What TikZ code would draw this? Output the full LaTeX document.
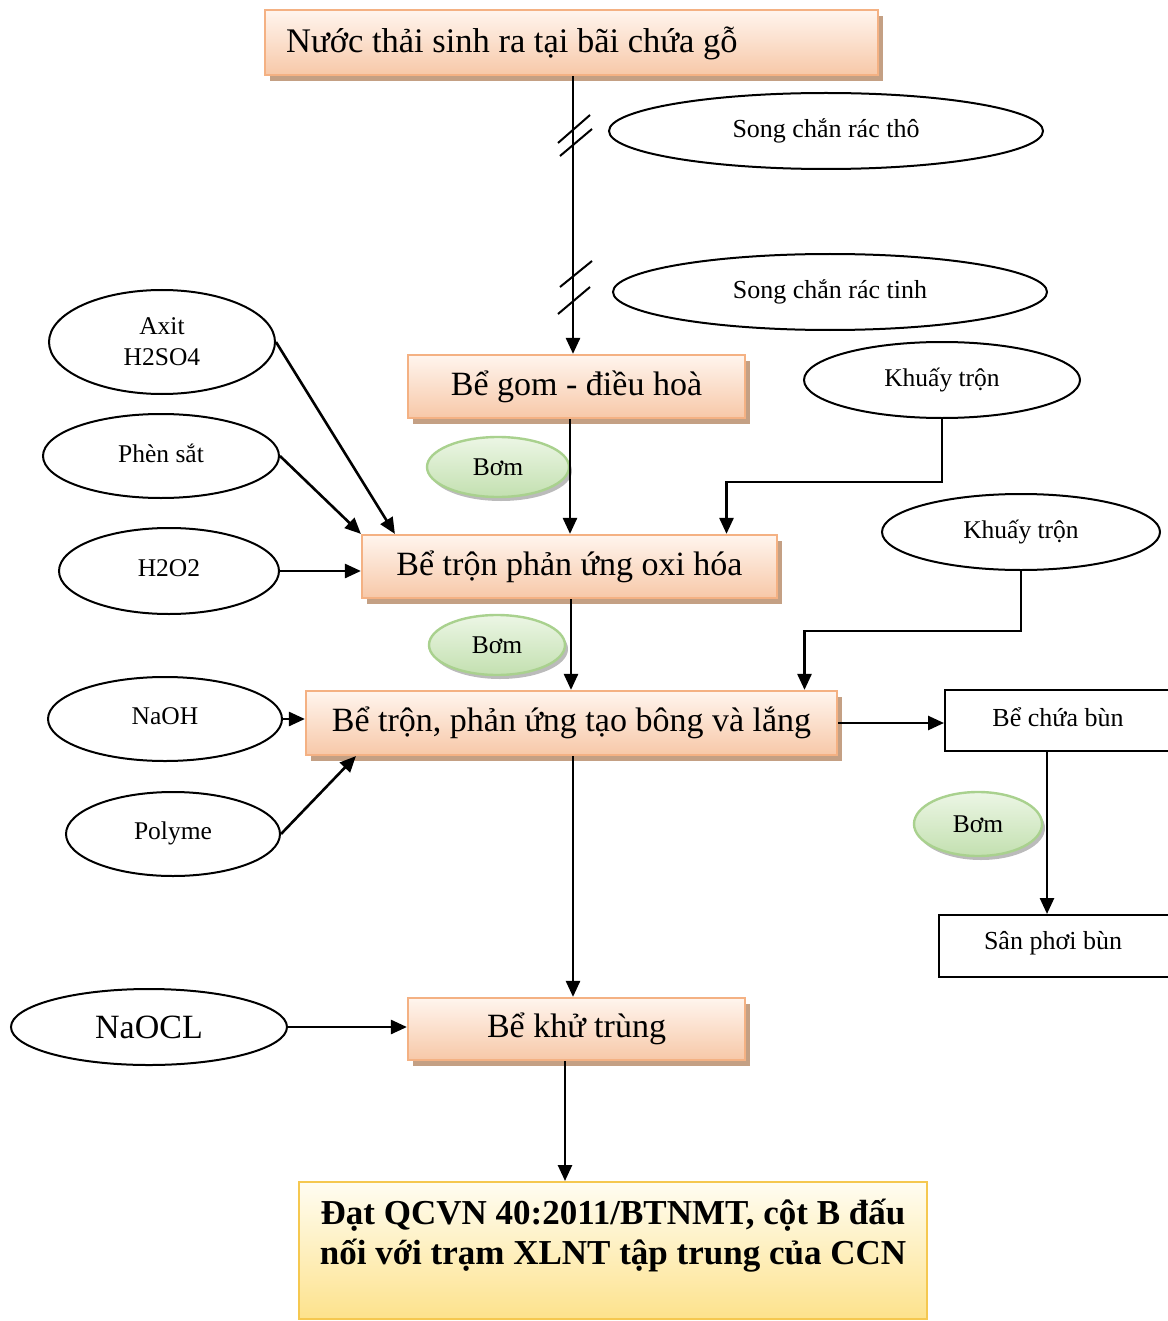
\documentclass[tikz,border=0pt]{standalone}
\usepackage{fontspec}
\setmainfont{Liberation Serif}
\usetikzlibrary{arrows.meta,shadows,shapes.geometric}
\definecolor{orb}{RGB}{244,177,131}
\definecolor{ortop}{RGB}{255,245,238}
\definecolor{orbot}{RGB}{247,200,168}
\definecolor{shad}{RGB}{196,160,132}
\definecolor{yeb}{RGB}{245,200,80}
\definecolor{yetop}{RGB}{255,253,242}
\definecolor{yebot}{RGB}{253,226,140}
\definecolor{grb}{RGB}{169,209,142}
\definecolor{grtop}{RGB}{236,246,229}
\definecolor{grbot}{RGB}{195,224,176}
\definecolor{gshad}{RGB}{170,170,170}
\tikzset{
  procbox/.style={draw=orb, line width=2.2pt, top color=ortop, bottom color=orbot,
    font=\fontsize{34}{38}\selectfont, inner sep=0pt,
    drop shadow={shadow xshift=5pt, shadow yshift=-6pt, fill=shad, opacity=1}},
  endbox/.style={draw=yeb, line width=2pt, top color=yetop, bottom color=yebot,
    font=\fontsize{34}{40}\selectfont\bfseries, inner sep=0pt, align=center},
  chem/.style={draw=black, line width=2pt, ellipse, fill=white, inner sep=0pt,
    font=\fontsize{25.5}{31}\selectfont, align=center},
  pump/.style={draw=grb, line width=2.4pt, ellipse, top color=grtop, bottom color=grbot,
    inner sep=0pt, font=\fontsize{25.5}{30}\selectfont,
    drop shadow={shadow xshift=3pt, shadow yshift=-4pt, fill=gshad, opacity=0.8}},
  plainbox/.style={draw=black, line width=2pt, fill=white, inner sep=0pt,
    font=\fontsize{26}{30}\selectfont},
  conn/.style={line width=2.6pt, draw=black},
  arr/.style={conn, -{Triangle[length=16pt,width=14pt]}},
}
\begin{document}
\begin{tikzpicture}[x=1pt,y=-1pt]
\useasboundingbox (0,0) rectangle (1167,1321);
% process boxes
\node[procbox, minimum width=613pt, minimum height=65pt] (top) at (571.5,42.5) {};
\node[font=\fontsize{34.5}{38}\selectfont, inner sep=0pt, anchor=west] (topt) at (286,43) {Nước thải sinh ra tại bãi chứa gỗ};
\node[procbox, minimum width=337pt, minimum height=63pt] (gom) at (576.5,386.5) {Bể gom - điều hoà};
\node[procbox, minimum width=415pt, minimum height=63pt] (ox) at (569.5,566.5) {Bể trộn phản ứng oxi hóa};
\node[procbox, minimum width=531pt, minimum height=64pt] (bl) at (571.5,723) {Bể trộn, phản ứng tạo bông và lắng};
\node[procbox, minimum width=337pt, minimum height=62pt] (kt) at (576.5,1029) {Bể khử trùng};
\node[endbox, minimum width=628pt, minimum height=137pt] (end) at (613,1250.5) {};
\node[font=\fontsize{35}{40}\selectfont\bfseries, align=center, inner sep=0pt] (endt) at (613,1236) {Đạt QCVN 40:2011/BTNMT, cột B đấu\\nối với trạm XLNT tập trung của CCN};
% ellipses
\node[chem, minimum width=434pt, minimum height=76pt, font=\fontsize{26}{31}\selectfont] (sct) at (826,131) {\raisebox{1pt}{Song chắn rác thô}};
\node[chem, minimum width=434pt, minimum height=76pt, font=\fontsize{26}{31}\selectfont] (sctinh) at (830,292) {\raisebox{1pt}{Song chắn rác tinh}};
\node[chem, minimum width=226pt, minimum height=104pt] (ax) at (162,342) {Axit\\H2SO4};
\node[chem, minimum width=236pt, minimum height=84pt] (ps) at (161,456) {\raisebox{6pt}{Phèn sắt}};
\node[chem, minimum width=220pt, minimum height=86pt] (h2) at (169,571) {\raisebox{6pt}{H2O2}};
\node[chem, minimum width=276pt, minimum height=76pt] (k1) at (942,380) {\raisebox{3pt}{Khuấy trộn}};
\node[chem, minimum width=278pt, minimum height=76pt] (k2) at (1021,532) {\raisebox{2pt}{Khuấy trộn}};
\node[chem, minimum width=234pt, minimum height=84pt] (naoh) at (165,719) {\raisebox{6pt}{NaOH}};
\node[chem, minimum width=214pt, minimum height=84pt] (pol) at (173,834) {\raisebox{6pt}{Polyme}};
\node[chem, minimum width=276pt, minimum height=76pt, font=\fontsize{34}{38}\selectfont] (naocl) at (149,1027) {NaOCL};
% pumps
\node[pump, minimum width=142pt, minimum height=60pt] (b1) at (498,467) {Bơm};
\node[pump, minimum width=136pt, minimum height=60pt] (b2) at (497,645) {Bơm};
\node[pump, minimum width=128pt, minimum height=64pt] (b3) at (978,824) {Bơm};
% sludge boxes
\node[plainbox, minimum width=230pt, minimum height=61pt] (bcb) at (1060,720.5) {};
\node[font=\fontsize{26}{30}\selectfont] (bcbt) at (1058,717) {Bể chứa bùn};
\node[plainbox, minimum width=236pt, minimum height=62pt] (spb) at (1057,946) {};
\node[font=\fontsize{26}{30}\selectfont] (spbt) at (1053,943) {Sân phơi bùn};
% helper coordinates
\coordinate (x1) at (573,0);
\coordinate (x2) at (570,0);
\coordinate (x3) at (571,0);
\coordinate (xb) at (1047,0);
\coordinate (x5) at (565,0);
% main line with screen marks
\draw[arr] (top.south -| x1) -- (gom.north -| x1);
\draw[conn, line width=2pt] (558,143) -- (590,115) (560,156) -- (592,129);
\draw[conn, line width=2pt] (560,287) -- (592,261) (558,314) -- (590,287);
\draw[arr] (gom.south -| x2) -- (ox.north -| x2);
\draw[arr] (k1.south) -- ++(0,63) -| ([xshift=157pt]ox.north);
\draw[arr] (ax.east) -- ([xshift=34pt]ox.north west);
\draw[arr] (ps.east) -- (ox.north west);
\draw[arr] (h2.east) -- (h2.east -| ox.west);
\draw[arr] (ox.south -| x3) -- (bl.north -| x3);
\draw[arr] (k2.south) -- ++(0,60) -| ([xshift=233pt]bl.north);
\draw[arr] (naoh.east) -- (naoh.east -| bl.west);
\draw[arr] (pol.east) -- ([xshift=51pt]bl.south west);
\draw[arr] (bl.east) -- (bl.east -| bcb.west);
\draw[arr] (bcb.south -| xb) -- (spb.north -| xb);
\draw[arr] (bl.south -| x1) -- (kt.north -| x1);
\draw[arr] (naocl.east) -- (naocl.east -| kt.west);
\draw[arr] (kt.south -| x5) -- (end.north -| x5);
\end{tikzpicture}
\end{document}
